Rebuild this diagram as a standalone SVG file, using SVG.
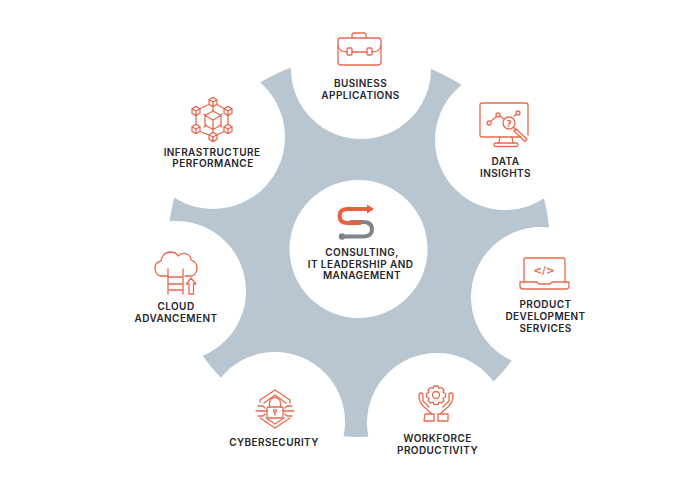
<svg xmlns="http://www.w3.org/2000/svg" width="700" height="500" viewBox="0 0 700 500">
<style>
.w{fill:#fff}
.t{font-family:"Inter","Liberation Sans",sans-serif;font-size:10px;font-weight:600;fill:#25252b;text-anchor:middle;letter-spacing:.42px}
.i{fill:none;stroke:#e8694f;stroke-width:1.3;stroke-linejoin:round;stroke-linecap:round}
.o{fill:#e8694f;font-family:"DejaVu Sans",sans-serif;font-weight:700;text-anchor:middle}
</style>
<defs>
<g id="cube"><path d="M0-4.6 4-2.3V2.3L0 4.6-4 2.3V-2.3ZM-4-2.3 0 0 4-2.3M0 0V4.6"/></g>
</defs>
<rect width="700" height="500" fill="#fff"/>
<g id="connectors"><circle cx="359" cy="246" r="191" fill="#b8c6d2"/></g>
<g id="business"><circle class="w" cx="361" cy="69" r="70"/>
<g class="i"><path d="M352 38V35Q352 33 354 33H364Q366 33 366 35V38"/><rect x="338" y="38" width="43" height="27" rx="3"/><path d="M338 45Q339 52 347 52M352 52H367M372 52Q380 52 381 45"/><rect x="347" y="48" width="5" height="7" rx="1"/><rect x="367" y="48" width="5" height="7" rx="1"/></g>
<text class="t" x="360.500" y="87">BUSINESS</text><text class="t" x="360.500" y="99">APPLICATIONS</text></g>
<g id="data"><circle class="w" cx="505" cy="140" r="70"/>
<g class="i"><path d="M521 137H482Q480 137 480 135V105Q480 103 482 103H526Q528 103 528 105V135"/><path d="M500 137 499 143M512 137 513 143"/><rect x="494" y="143" width="24" height="3.500" rx="1.700"/><circle cx="489" cy="123" r="2"/><circle cx="498" cy="115" r="2"/><circle cx="518" cy="113" r="2"/><path d="M491 121 496 117M500 116 504 119M514 116 516 114.500"/><circle cx="509" cy="123" r="6"/><path d="M513.500 127.500 516 130M516 129 527 139 525 141.500 514 131Z"/></g>
<text class="o" x="509" y="126.500" font-size="9">?</text>
<text class="t" x="505.500" y="165">DATA</text><text class="t" x="505.500" y="177">INSIGHTS</text></g>
<g id="product"><circle class="w" cx="541" cy="297" r="70"/>
<g class="i"><path d="M524 282V260Q524 258 526 258H563Q565 258 565 260V282"/><path d="M520 282H537L539 284H550L552 282H569V286Q569 289 566 289H523Q520 289 520 286Z"/></g>
<text class="o" x="544" y="274" font-size="10.500">&lt;/&gt;</text>
<text class="t" x="545.500" y="308">PRODUCT</text><text class="t" x="545.500" y="320">DEVELOPMENT</text><text class="t" x="545.500" y="332">SERVICES</text></g>
<g id="workforce"><circle class="w" cx="437" cy="423" r="70"/>
<g class="i"><circle cx="436" cy="395" r="3.500"/><path d="M434 386H438L439 388.500 441.500 387.500 444 390 443 392.500 445.500 393.500V397L443 398 444 400.500 441.500 403 439 402 438 404.500H434L433 402 430.500 403 428 400.500 429 398 426.500 397V393.500L429 392.500 428 390 430.500 387.500 433 388.500Z"/><path d="M432 414 423 406Q419 401 419 396 419 393 421 393 423 393 423 396V401L429 407M425 414H434V421H424Z"/><path d="M440 414 449 406Q453 401 453 396 453 393 451 393 449 393 449 396V401L443 407M438 414H448V421H438Z"/></g>
<text class="t" x="437.500" y="442">WORKFORCE</text><text class="t" x="437.500" y="454">PRODUCTIVITY</text></g>
<g id="cybersecurity"><circle class="w" cx="275" cy="422" r="70"/>
<g class="i"><path d="M260 402 V400 L275 390 290 400V403M290 418 275 428 260 418"/><path d="M264 403 275 395 286 403M266 418 275 424 284 418"/><rect x="267" y="407" width="16" height="11" rx="1.500"/><path d="M269.500 407V403A5.500 5.500 0 0 1 280.500 403V407"/><circle cx="275" cy="411" r="1.400"/><path d="M275 412.400V415"/><path d="M256 411H267M258 406H263L265 408M258 416H263L265 414M294 411H283M292 406H287L285 408M292 416H287L285 414"/></g>
<text class="t" x="274" y="446">CYBERSECURITY</text></g>
<g id="cloud"><circle class="w" cx="176" cy="291" r="70"/>
<g class="i"><path d="M168 276H160Q155 274 155 268 155 262 161 261 162 253 170 252 176 252 178 256 182 252 187 254 191 256 191 260 197 262 197 268 197 274 192 276H185"/><path d="M168 269V294M183 269V294M168 277H183M168 284H183M168 290H183"/><path d="M191 278 196 284H193.500V294H189V284H186.500Z"/></g>
<text class="t" x="176" y="310">CLOUD</text><text class="t" x="176" y="322">ADVANCEMENT</text></g>
<g id="infrastructure"><circle class="w" cx="213" cy="137" r="72"/>
<g class="i"><use href="#cube" x="213" y="102"/><use href="#cube" x="196" y="111"/><use href="#cube" x="228" y="111"/><use href="#cube" x="196" y="129"/><use href="#cube" x="228" y="129"/><use href="#cube" x="213" y="137"/><path d="M200 108.500 209 104.500M224 108.500 217 104.500M196 116V124M228 116V124M200 131.500 209 135M224 131.500 217 135M213 107V112M204 114 206 116M222 114 220 116M204 127 206 125M222 127 220 125M213 128V132"/><path d="M213 111 221 115.500V125L213 129.500 205 125V115.500ZM205 115.500 213 120 221 115.500M213 120V129.500"/></g>
<text class="t" x="212" y="156">INFRASTRUCTURE</text><text class="t" x="213" y="167">PERFORMANCE</text></g>
<g id="center"><circle class="w" cx="358.500" cy="249" r="69"/>
<g fill="none" stroke-width="4" stroke-linecap="round"><path d="M351 222H363Q372 222 372 229.500 372 236.500 363 236.500H342" stroke="#7f8489"/><path d="M368 209H348Q339.500 209 339.500 216 339.500 223 348 223H360" stroke="#e8603f"/></g>
<path d="M367 204.500 374 209 367 213.500Z" fill="#e8603f"/><circle cx="342" cy="236.500" r="3.200" fill="#7f8489"/>
<text class="t" x="362" y="256">CONSULTING,</text><text class="t" x="360.500" y="268">IT LEADERSHIP AND</text><text class="t" x="362" y="279">MANAGEMENT</text></g>
</svg>
